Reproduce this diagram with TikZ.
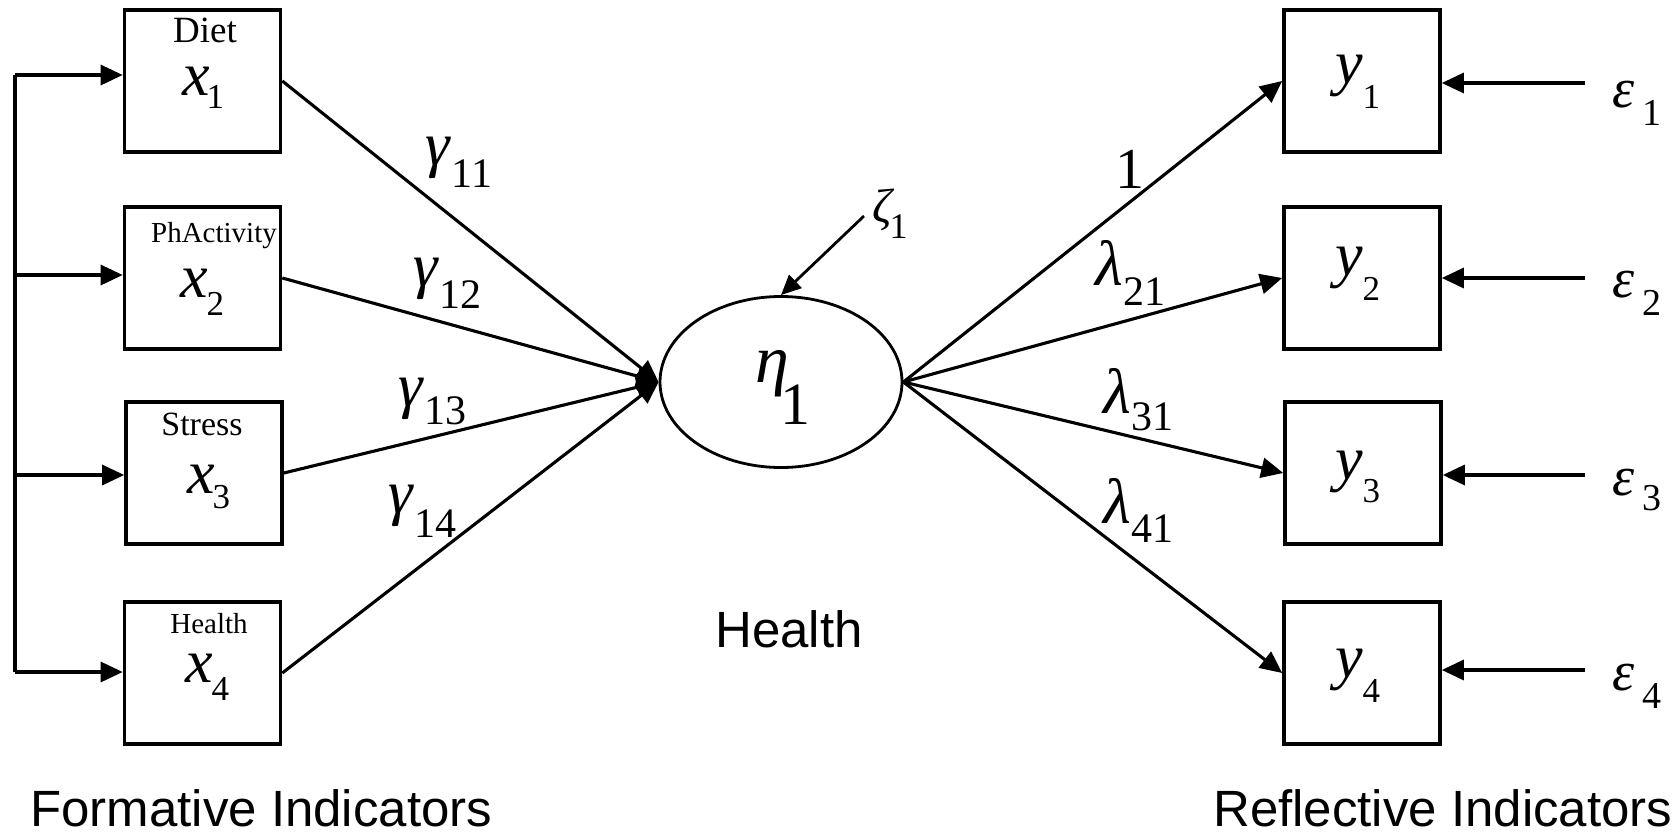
\documentclass[tikz,border=0pt]{standalone}
\usepackage{fontspec}
\setmainfont{Liberation Serif}
\newfontfamily\sansf{Liberation Sans}
\usetikzlibrary{arrows.meta,shapes.geometric}
\newcommand\lbl[6]{{\fontsize{#2}{#2}\selectfont\itshape #1}\kern#6\raisebox{-#5}{\fontsize{#4}{#4}\selectfont #3}}
\begin{document}
\begin{tikzpicture}[x=1pt,y=-1pt,
  box/.style={draw,line width=3.6pt,minimum width=156pt,minimum height=142pt,inner sep=0pt},
  txt/.style={inner sep=0pt,anchor=base west},
  ctxt/.style={inner sep=0pt,anchor=base,text depth=0pt},
  conn/.style={line width=3.1pt,-{Triangle[length=22pt,width=20pt]}},
  plain/.style={line width=3.1pt},
  bigsans/.style={inner sep=0pt,anchor=base west,text depth=0pt,font=\sansf\fontsize{51}{51}\selectfont}]
\path[use as bounding box] (0,0) rectangle (1678,835);

% formative boxes
\node[box] (x1) at (202.5,81) {};
\node[box] (x2) at (202.5,278) {};
\node[box] (x3) at (204,473) {};
\node[box] (x4) at (202.5,673) {};
\node[ctxt] (n1) at (205,42) {\fontsize{37}{37}\selectfont Diet};
\node[ctxt] (n2) at (214,242) {\fontsize{29}{29}\selectfont PhActivity};
\node[ctxt] (n3) at (202,435) {\fontsize{34}{34}\selectfont Stress};
\node[ctxt] (n4) at (209,633) {\fontsize{29}{29}\selectfont Health};
\node[txt] (l1) at (182,95) {\lbl{x}{62}{1}{35}{13pt}{-3pt}};
\node[txt] (l2) at (180,297) {\lbl{x}{62}{2}{35}{18pt}{-1pt}};
\node[txt] (l3) at (187,493) {\lbl{x}{62}{3}{35}{15pt}{-2pt}};
\node[txt] (l4) at (185,682) {\lbl{x}{62}{4}{35}{18pt}{-1pt}};

% bus
\coordinate (b1) at (15,75);
\coordinate (b2) at (15,275);
\coordinate (b3) at (15,475);
\coordinate (b4) at (15,672);
\draw[plain] (b1) -- (b4);
\draw[conn] (b1) -- (x1.west |- b1);
\draw[conn] (b2) -- (x2.west |- b2);
\draw[conn] (b3) -- (x3.west |- b3);
\draw[conn] (b4) -- (x4.west |- b4);

% latent
\node[draw,ellipse,line width=2.8pt,minimum width=242pt,minimum height=171pt,inner sep=0pt] (eta) at (781,382) {};
\node[txt] (etal) at (755,382) {\lbl{η}{68}{1}{60}{42pt}{-8pt}};
\coordinate (zs) at (864,216);
\draw[line width=2.8pt,-{Triangle[length=20pt,width=18pt]}] (zs) -- (eta.north);
\node[txt] (zeta) at (872,222) {\lbl{ζ}{48}{1}{36}{16pt}{-2pt}};

\draw[conn] (x1.east) -- (eta.west);
\draw[conn] (x2.east) -- (eta.west);
\draw[conn] (x3.east) -- (eta.west);
\draw[conn] (x4.east) -- (eta.west);
\node[txt] (g1) at (425,165) {\lbl{γ}{62}{11}{42}{22pt}{2pt}};
\node[txt] (g2) at (413,286) {\lbl{γ}{62}{12}{42}{22pt}{2pt}};
\node[txt] (g3) at (398,406) {\lbl{γ}{62}{13}{42}{18pt}{2pt}};
\node[txt] (g4) at (388,513) {\lbl{γ}{62}{14}{42}{24pt}{2pt}};

% reflective boxes
\node[box] (y1) at (1362,81) {};
\node[box] (y2) at (1362,278) {};
\node[box] (y3) at (1363,473) {};
\node[box] (y4) at (1362,673) {};
\node[txt] (m1) at (1335,83) {\lbl{y}{62}{1}{35}{25pt}{0pt}};
\node[txt] (m2) at (1335,275) {\lbl{y}{62}{2}{35}{25pt}{0pt}};
\node[txt] (m3) at (1335,479) {\lbl{y}{62}{3}{35}{23pt}{0pt}};
\node[txt] (m4) at (1335,677) {\lbl{y}{62}{4}{35}{25pt}{0pt}};

\draw[conn] (eta.east) -- (y1.west);
\draw[conn] (eta.east) -- (y2.west);
\draw[conn] (eta.east) -- (y3.west);
\draw[conn] (eta.east) -- (y4.west);
\node[txt] (k1) at (1115,188) {\fontsize{58}{58}\selectfont 1};
\node[txt] (k2) at (1095,285) {\lbl{λ}{64}{21}{42}{20pt}{1pt}};
\node[txt] (k3) at (1103,413) {\lbl{λ}{64}{31}{42}{17pt}{1pt}};
\node[txt] (k4) at (1103,523) {\lbl{λ}{64}{41}{42}{19pt}{1pt}};

% errors
\coordinate (e1) at (1585,83);
\coordinate (e2) at (1585,278);
\coordinate (e3) at (1585,475);
\coordinate (e4) at (1585,670);
\draw[conn] (e1) -- (y1.east |- e1);
\draw[conn] (e2) -- (y2.east |- e2);
\draw[conn] (e3) -- (y3.east |- e3);
\draw[conn] (e4) -- (y4.east |- e4);
\node[txt] (eps1) at (1612,107) {\lbl{ε}{56}{1}{38}{18pt}{8pt}};
\node[txt] (eps2) at (1612,297) {\lbl{ε}{56}{2}{38}{18pt}{8pt}};
\node[txt] (eps3) at (1612,495) {\lbl{ε}{56}{3}{38}{15pt}{8pt}};
\node[txt] (eps4) at (1612,690) {\lbl{ε}{56}{4}{38}{18pt}{8pt}};

% captions
\node[bigsans] (health) at (715,647) {Health};
\node[bigsans] (form) at (30,826) {Formative Indicators};
\node[bigsans] (refl) at (1213,826) {Reflective Indicators};
\end{tikzpicture}
\end{document}
